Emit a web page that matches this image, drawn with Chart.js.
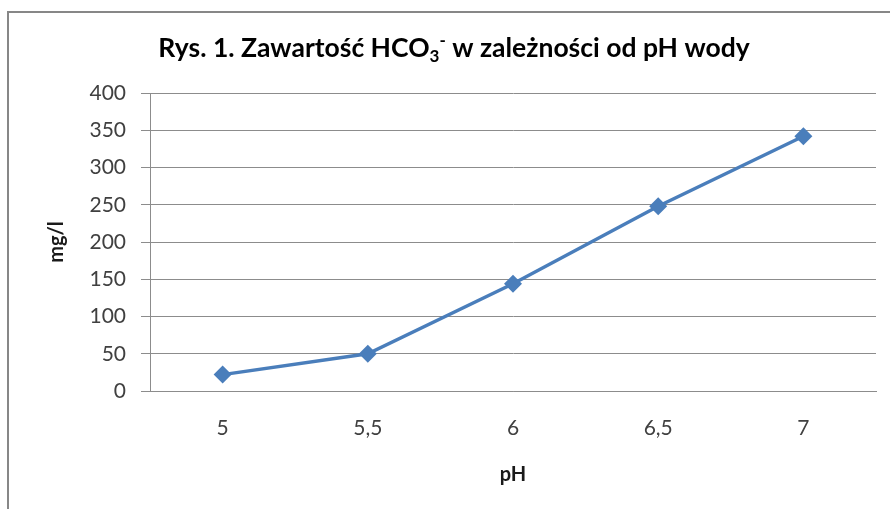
<!DOCTYPE html>
<html>
<head>
<meta charset="utf-8">
<script src="https://cdn.jsdelivr.net/npm/chart.js@4/dist/chart.umd.min.js"></script>
<style>
  html, body { margin: 0; padding: 0; background: #fff; overflow: hidden; }
  #wrap { position: relative; width: 890px; height: 509px; }
  #frame { position: absolute; left: 7px; top: 11px; width: 1000px; height: 600px; border: 2px solid #878787; box-sizing: border-box; }
  #chart { position: absolute; left: 0; top: 0; }
</style>
</head>
<body>
<div id="wrap">
  <div id="frame"></div>
  <canvas id="chart" width="890" height="509"></canvas>
</div>
<script>
// Data
const phLabels = ['5', '5,5', '6', '6,5', '7'];
const hco3Values = [22, 50, 144, 248, 342];
const yTicks = [0, 50, 100, 150, 200, 250, 300, 350, 400];

const FONT = 'Lato, "Open Sans", sans-serif';
const BLUE = '#4a7ebb';
const GRID = '#8c8c8c';

// Title with subscript 3 and superscript minus, drawn as canvas text
const titlePlugin = {
  id: 'hco3Title',
  afterDraw(chart) {
    const ctx = chart.ctx;
    const parts = [
      { text: 'Rys. 1. Zawartość HCO', size: 26.5, dy: 0 },
      { text: '3', size: 17, dy: 5 },
      { text: '-', size: 17, dy: -11 },
      { text: ' w zależności od pH wody', size: 26.5, dy: 0 },
    ];
    ctx.save();
    ctx.fillStyle = '#000';
    ctx.textBaseline = 'alphabetic';
    let total = 0;
    parts.forEach(p => {
      ctx.font = `bold ${p.size}px ${FONT}`;
      p.w = ctx.measureText(p.text).width;
      total += p.w;
    });
    let x = 454 - total / 2;
    const base = 57;
    parts.forEach(p => {
      ctx.font = `bold ${p.size}px ${FONT}`;
      ctx.fillText(p.text, x, base + p.dy);
      x += p.w;
    });
    ctx.restore();
  }
};

new Chart(document.getElementById('chart'), {
  type: 'line',
  data: {
    labels: phLabels,
    datasets: [{
      data: hco3Values,
      borderColor: BLUE,
      backgroundColor: BLUE,
      borderWidth: 3.5,
      tension: 0,
      pointStyle: 'rectRot',
      pointRadius: 9,
      pointHoverRadius: 9,
      pointBorderWidth: 0,
    }],
  },
  options: {
    responsive: false,
    animation: false,
    events: [],
    layout: { padding: { top: 93, right: 14, left: 0, bottom: 0 } },
    plugins: {
      legend: { display: false },
      tooltip: { enabled: false },
    },
    scales: {
      x: {
        offset: true,
        grid: { display: false, drawTicks: false },
        border: { display: true, color: GRID, width: 1 },
        ticks: { color: '#404040', font: { family: FONT, size: 21 }, padding: 25, maxRotation: 0 },
        title: { display: true, text: 'pH', color: '#1a1a1a', font: { family: FONT, size: 20, weight: 'bold' }, padding: { top: 0, bottom: 22 } },
        afterFit: s => { s.height = 118; },
      },
      y: {
        min: 0,
        max: 400,
        afterBuildTicks: s => { s.ticks = yTicks.map(v => ({ value: v })); },
        grid: { color: GRID, lineWidth: 1, tickLength: 9, drawTicks: true },
        border: { display: true, color: GRID, width: 1 },
        ticks: { color: '#404040', font: { family: FONT, size: 21 }, padding: 15 },
        title: { display: true, text: 'mg/l', color: '#1a1a1a', font: { family: FONT, size: 20, weight: 'bold' }, padding: { top: 45, bottom: 0 } },
        afterFit: s => { s.width = 150; },
      },
    },
  },
  plugins: [titlePlugin],
});
</script>
</body>
</html>
